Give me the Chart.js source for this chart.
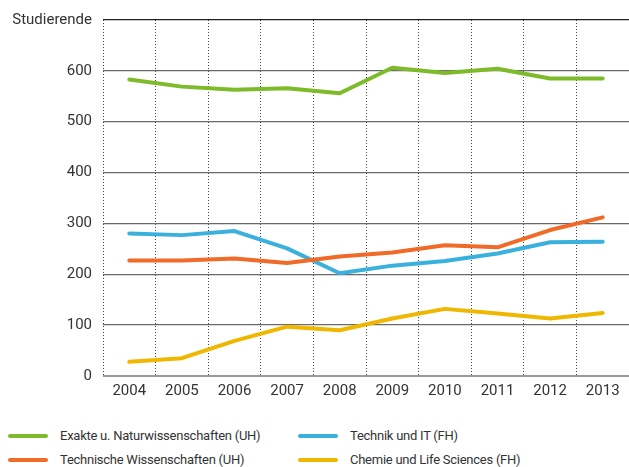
<!DOCTYPE html>
<html>
<head>
<meta charset="utf-8">
<script src="https://cdn.jsdelivr.net/npm/chart.js@4"></script>
<style>
  body { margin: 0; background: #fff; font-family: Roboto, sans-serif; }
  #wrap { position: relative; width: 629px; height: 467px; }
  #chart { position: absolute; left: 0; top: 0; }
  #legend { position: absolute; left: 8px; top: 428px; width: 621px; }
  .item { position: absolute; display: flex; align-items: center; font-size: 13px; letter-spacing: -0.25px; color: #333; white-space: nowrap; }
  .swatch { width: 40px; height: 4px; border-radius: 2px; margin-right: 12px; }
</style>
</head>
<body>
<div id="wrap">
  <canvas id="chart" width="629" height="406"></canvas>
  <div id="legend"></div>
</div>
<script>
const jahre = ["2004", "2005", "2006", "2007", "2008", "2009", "2010", "2011", "2012", "2013"];
const exakte = [583, 569, 563, 566, 556, 606, 596, 604, 585, 585];
const technisch = [227, 227, 231, 222, 235, 243, 257, 253, 287, 312];
const technikIT = [280, 277, 285, 251, 202, 217, 226, 241, 263, 264];
const chemie = [28, 35, 69, 97, 90, 113, 132, 123, 113, 124];
const yTicks = [0, 100, 200, 300, 400, 500, 600, 700];

const serien = [
  { label: "Exakte u. Naturwissenschaften (UH)", data: exakte, color: "#7dbb2a" },
  { label: "Technische Wissenschaften (UH)", data: technisch, color: "#f06a28" },
  { label: "Technik und IT (FH)", data: technikIT, color: "#3ab0dc" },
  { label: "Chemie und Life Sciences (FH)", data: chemie, color: "#efb700" }
];

// Legende (2 Spalten)
const legendEl = document.getElementById("legend");
const pos = [[0, 0], [0, 24], [290, 0], [290, 24]];
serien.forEach((s, i) => {
  const d = document.createElement("div");
  d.className = "item";
  d.style.left = pos[i][0] + "px";
  d.style.top = pos[i][1] + "px";
  d.innerHTML = `<span class="swatch" style="background:${s.color}"></span>${s.label}`;
  legendEl.appendChild(d);
});

const ctx = document.getElementById("chart").getContext("2d");
new Chart(ctx, {
  type: "line",
  data: {
    labels: jahre,
    datasets: serien.map(s => ({
      label: s.label,
      data: s.data,
      borderColor: s.color,
      borderWidth: 4,
      pointRadius: 0,
      tension: 0,
      borderCapStyle: "round",
      borderJoinStyle: "round"
    }))
  },
  options: {
    responsive: false,
    animation: false,
    layout: { padding: { top: 12, right: 0, bottom: 0, left: 0 } },
    plugins: { legend: { display: false }, tooltip: { enabled: false } },
    scales: {
      x: {
        offset: true,
        grid: { offset: true, drawTicks: false, color: "#444", lineWidth: 1 },
        border: { display: false, dash: [1, 2] },
        ticks: { padding: 6, color: "#333", font: { family: "Roboto", size: 15 } }
      },
      y: {
        min: 0,
        max: 700,
        afterFit: s => { s.width = 103; },
        afterBuildTicks: s => { s.ticks = yTicks.map(v => ({ value: v })); },
        grid: {
          drawTicks: false,
          color: c => c.tick && c.tick.value === 700 ? "#222" : (c.tick && c.tick.value === 0 ? "#999" : "#6a6a6a"),
          lineWidth: c => c.tick && c.tick.value === 0 ? 2 : 1.3
        },
        border: { display: false },
        ticks: {
          padding: 11,
          color: "#333",
          font: { family: "Roboto", size: 15 },
          callback: v => v === 700 ? "Studierende" : v
        }
      }
    }
  }
});
</script>
</body>
</html>
